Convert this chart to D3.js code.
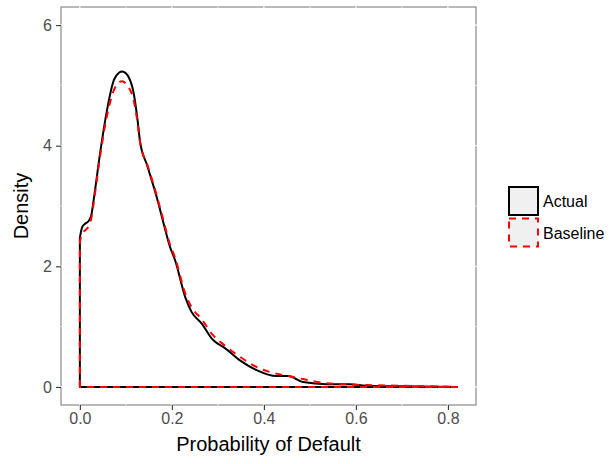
<!DOCTYPE html>
<html>
<head>
<meta charset="utf-8">
<script src="https://cdn.jsdelivr.net/npm/d3@7"></script>
<style>
  html, body { margin: 0; padding: 0; background: #fff; }
  svg { display: block; font-family: "Liberation Sans", Arial, sans-serif; }
</style>
</head>
<body>
<svg id="chart" width="616" height="464"></svg>
<script>
// ---- data ----
const seriesNames = ["Actual", "Baseline"];
const actualX = [0, 0.005, 0.012, 0.020, 0.025, 0.030, 0.045, 0.059, 0.074, 0.085, 0.092, 0.100, 0.106, 0.117, 0.125, 0.131, 0.146, 0.168, 0.181, 0.196, 0.207, 0.229, 0.243, 0.265, 0.287, 0.294, 0.316, 0.348, 0.384, 0.427, 0.453, 0.485, 0.536, 0.586, 0.622, 0.70, 0.82];
const actualY = [2.47, 2.65, 2.71, 2.76, 2.85, 3.10, 3.93, 4.59, 5.09, 5.21, 5.23, 5.20, 5.14, 4.87, 4.45, 4.06, 3.68, 3.12, 2.74, 2.32, 2.10, 1.49, 1.24, 1.05, 0.80, 0.75, 0.64, 0.44, 0.28, 0.18, 0.18, 0.08, 0.045, 0.045, 0.02, 0.01, 0.0];
const baselineX = [0, 0.005, 0.012, 0.020, 0.025, 0.030, 0.045, 0.059, 0.074, 0.085, 0.092, 0.100, 0.106, 0.117, 0.125, 0.131, 0.146, 0.168, 0.181, 0.196, 0.207, 0.229, 0.243, 0.265, 0.287, 0.316, 0.348, 0.384, 0.427, 0.453, 0.485, 0.536, 0.586, 0.622, 0.70, 0.82];
const baselineY = [2.40, 2.55, 2.60, 2.68, 2.80, 3.05, 3.88, 4.50, 4.92, 5.05, 5.07, 5.03, 4.97, 4.75, 4.40, 4.05, 3.70, 3.15, 2.78, 2.36, 2.14, 1.55, 1.32, 1.12, 0.88, 0.68, 0.50, 0.33, 0.22, 0.18, 0.13, 0.06, 0.04, 0.03, 0.02, 0.0];
const xTicks = [0.0, 0.2, 0.4, 0.6, 0.8];
const yTicks = [0, 2, 4, 6];
const xMinor = [0.1, 0.3, 0.5, 0.7];
const yMinor = [1, 3, 5];

// ---- layout ----
const svg = d3.select("#chart");
const panel = { left: 61, top: 7, right: 476, bottom: 405 };

const x = d3.scaleLinear().domain([-0.041, 0.861]).range([panel.left, panel.right]);
const y = d3.scaleLinear().domain([-0.3, 6.3]).range([panel.bottom, panel.top]);

// panel background + border
svg.append("rect")
  .attr("x", panel.left).attr("y", panel.top)
  .attr("width", panel.right - panel.left).attr("height", panel.bottom - panel.top)
  .attr("fill", "#fff").attr("stroke", "#7f7f7f").attr("stroke-width", 1.1);

// white grid lines (visible only as notches on the border)
const grid = svg.append("g");
grid.selectAll(".vmaj").data(xTicks.concat(xMinor)).join("line")
  .attr("x1", d => x(d)).attr("x2", d => x(d))
  .attr("y1", panel.top - 1).attr("y2", panel.bottom + 1)
  .attr("stroke", "#fff").attr("stroke-width", d => xTicks.includes(d) ? 1.1 : 0.6);
grid.selectAll(".hmaj").data(yTicks.concat(yMinor)).join("line")
  .attr("y1", d => y(d)).attr("y2", d => y(d))
  .attr("x1", panel.left - 1).attr("x2", panel.right + 1)
  .attr("stroke", "#fff").attr("stroke-width", d => yTicks.includes(d) ? 1.1 : 0.6);

// axes
const xAxis = d3.axisBottom(x).tickValues(xTicks).tickFormat(d3.format(".1f")).tickSize(5).tickPadding(3);
const yAxis = d3.axisLeft(y).tickValues(yTicks).tickFormat(d3.format("d")).tickSize(5).tickPadding(4);

const gx = svg.append("g").attr("transform", `translate(0,${panel.bottom})`).call(xAxis);
const gy = svg.append("g").attr("transform", `translate(${panel.left},0)`).call(yAxis);
[gx, gy].forEach(g => {
  g.select(".domain").remove();
  g.selectAll(".tick line").attr("stroke", "#333").attr("stroke-width", 1.1);
  g.selectAll(".tick text").attr("fill", "#4d4d4d").attr("font-size", 16)
    .attr("font-family", "Liberation Sans, Arial, sans-serif");
});

// axis titles
svg.append("text")
  .attr("x", (panel.left + panel.right) / 2).attr("y", 451)
  .attr("text-anchor", "middle").attr("font-size", 20).attr("fill", "#000")
  .text("Probability of Default");
svg.append("text")
  .attr("transform", `translate(28,${(panel.top + panel.bottom) / 2}) rotate(-90)`)
  .attr("text-anchor", "middle").attr("font-size", 20).attr("fill", "#000")
  .text("Density");

// density outlines
const line = d3.line().x(d => x(d[0])).y(d => y(d[1])).curve(d3.curveMonotoneX);
function densityPath(xs, ys) {
  const pts = xs.map((v, i) => [v, ys[i]]);
  const curve = line(pts);
  return `M${x(xs[0])},${y(0)}L` + curve.slice(1) + "Z";
}
const series = [
  { name: seriesNames[0], xs: actualX, ys: actualY, color: "#000", dash: null },
  { name: seriesNames[1], xs: baselineX, ys: baselineY, color: "#ff0000", dash: "7,6" }
];
svg.append("g").selectAll("path").data(series).join("path")
  .attr("d", d => densityPath(d.xs, d.ys))
  .attr("fill", "none")
  .attr("stroke", d => d.color)
  .attr("stroke-width", 2)
  .attr("stroke-linejoin", "round")
  .attr("stroke-dasharray", d => d.dash);

// legend
const legend = svg.append("g");
series.forEach((s, i) => {
  const ky = 187 + i * 31.5;
  legend.append("rect")
    .attr("x", 509).attr("y", ky).attr("width", 29).attr("height", 28)
    .attr("fill", "#f0f0f0").attr("stroke", s.color).attr("stroke-width", 2)
    .attr("stroke-dasharray", s.dash);
  legend.append("text")
    .attr("x", 543).attr("y", ky + 20)
    .attr("font-size", 16).attr("fill", "#000")
    .text(s.name);
});
</script>
</body>
</html>
